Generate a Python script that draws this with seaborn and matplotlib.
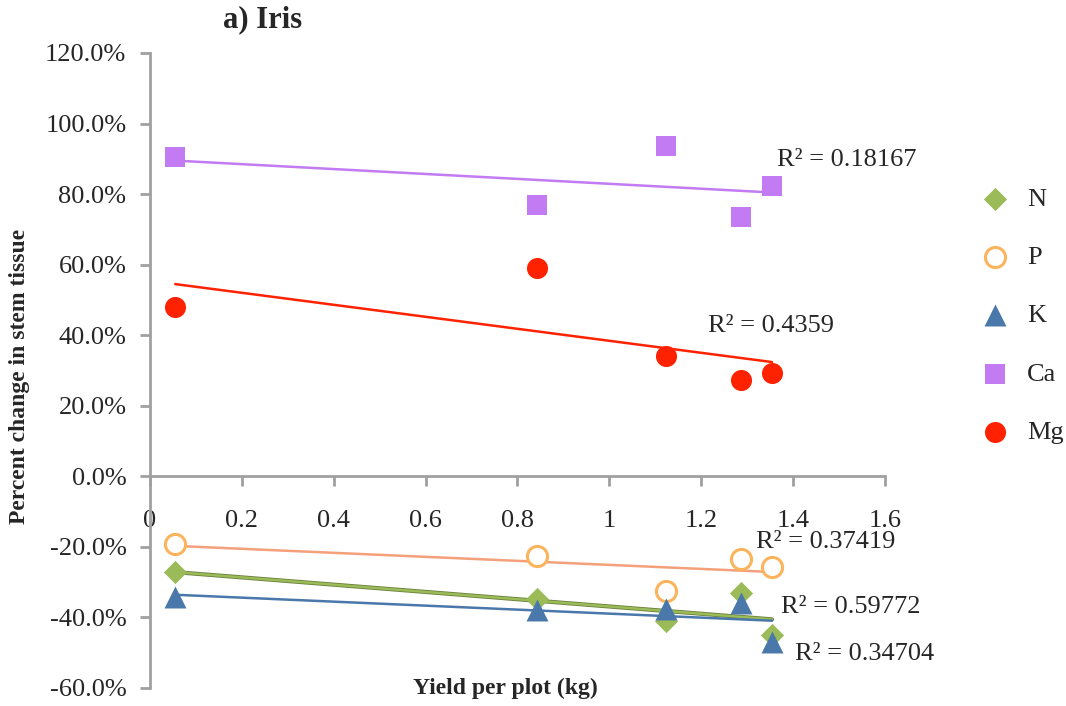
import matplotlib
matplotlib.use("Agg")
import matplotlib.pyplot as plt
import matplotlib.patheffects as pe
from matplotlib.ticker import PercentFormatter, MultipleLocator
import numpy as np
import pandas as pd
import seaborn as sns

# Datos (rendimiento por parcela, cambio porcentual)
yield_kg = [0.055, 0.843, 1.124, 1.286, 1.354]
n_vals = [-0.272, -0.348, -0.410, -0.330, -0.450]
p_vals = [-0.193, -0.227, -0.325, -0.235, -0.256]
k_vals = [-0.342, -0.380, -0.375, -0.360, -0.470]
ca_vals = [0.906, 0.770, 0.935, 0.736, 0.822]
mg_vals = [0.481, 0.591, 0.342, 0.272, 0.292]

elements = ["N", "P", "K", "Ca", "Mg"]
r2_labels = ["R² = 0.59772", "R² = 0.37419", "R² = 0.34704", "R² = 0.18167", "R² = 0.4359"]
r2_pos = [(1.373, -0.371), (1.319, -0.187), (1.404, -0.504), (1.365, 0.897), (1.214, 0.427)]

sns.set_style("white")
plt.rcParams["font.family"] = ["Liberation Serif", "DejaVu Serif"]
plt.rcParams["axes.unicode_minus"] = False

estilos = {
    "N": dict(marker="D", color="#9bbb59", face="#9bbb59", line="#9bbb59", size=140),
    "P": dict(marker="o", color="#fbb45c", face="white", line="#f4a07a", size=210),
    "K": dict(marker="^", color="#4a78aa", face="#4a78aa", line="#4a78aa", size=250),
    "Ca": dict(marker="s", color="#c27bf2", face="#c27bf2", line="#c27bf2", size=220),
    "Mg": dict(marker="o", color="#ff2200", face="#ff2200", line="#ff2200", size=230),
}

datos = pd.DataFrame({"Yield": yield_kg, "N": n_vals, "P": p_vals, "K": k_vals,
                      "Ca": ca_vals, "Mg": mg_vals})

fig = plt.figure(figsize=(10.66, 7.06), dpi=100)
ax = fig.add_axes([0.1407, 0.0255, 0.6895, 0.8995])

handles = []
for el in elements:
    st = estilos[el]
    # línea de tendencia (regresión lineal)
    sns.regplot(data=datos, x="Yield", y=el, ax=ax, scatter=False, ci=None,
                line_kws=dict(color=st["line"], lw=1.8, zorder=2))
    sc = ax.scatter(datos["Yield"], datos[el], marker=st["marker"], s=st["size"],
                    facecolor=st["face"], edgecolor=st["color"],
                    linewidths=2.2 if el == "P" else 0, zorder=3, label=el)
    handles.append(sc)

# contorno oscuro de la línea de N
ax.lines[0].set_path_effects([pe.Stroke(linewidth=3, foreground="#6b7f3a"), pe.Normal()])

for txt, (x, y) in zip(r2_labels, r2_pos):
    ax.text(x, y, txt, fontsize=19, va="center", ha="left")

ax.set_xlim(0, 1.6)
ax.set_ylim(-0.6, 1.2)
ax.yaxis.set_major_locator(MultipleLocator(0.2))
ax.yaxis.set_major_formatter(PercentFormatter(1.0, decimals=1))
ax.set_xticks(np.arange(0, 1.61, 0.2))
ax.set_xticklabels(["0", "0.2", "0.4", "0.6", "0.8", "1", "1.2", "1.4", "1.6"])

for s in ["top", "right"]:
    ax.spines[s].set_visible(False)
ax.spines["bottom"].set_position(("data", 0))
for s in ["bottom", "left"]:
    ax.spines[s].set_color("#a0a0a0")
    ax.spines[s].set_linewidth(2)
ax.tick_params(axis="y", direction="out", length=7, width=2, color="#a0a0a0",
               labelsize=19, pad=10, left=True)
ax.tick_params(axis="x", direction="out", length=7, width=2, color="#a0a0a0",
               labelsize=19, pad=17, bottom=True)

ax.set_xlabel("Yield per plot (kg)", fontsize=17, fontweight="bold")
ax.xaxis.set_label_coords(0.483, 0.0)
ax.xaxis.label.set_va("center")
ax.set_ylabel("Percent change in stem tissue", fontsize=17, fontweight="bold")
ax.yaxis.set_label_coords(-0.177, 0.491)
ax.yaxis.label.set_va("center")

fig.text(0.246, 0.972, "a) Iris", fontsize=22, fontweight="bold", ha="center", va="center")

ax.legend(handles=handles, labels=elements, loc="upper left",
          bbox_to_anchor=(1.1, 0.805), frameon=False, fontsize=19,
          labelspacing=1.32, handletextpad=0.2, borderaxespad=0)

fig.savefig("out.png", dpi=100)
